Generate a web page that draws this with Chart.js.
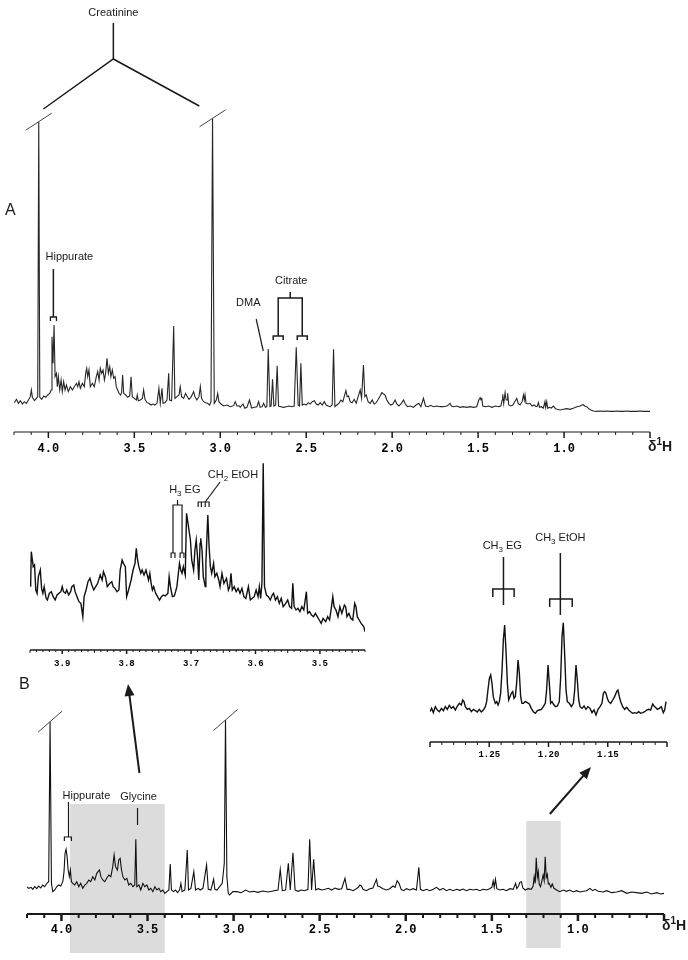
<!DOCTYPE html>
<html>
<head>
<meta charset="utf-8">
<script src="https://cdn.jsdelivr.net/npm/chart.js@4.4.0/dist/chart.umd.min.js"></script>
<style>
  body { margin: 0; background: #fff; }
  #wrap { position: relative; width: 688px; height: 960px; }
  #wrap canvas { position: absolute; left: 0; top: 0; }
</style>
</head>
<body>
<div id="wrap">
  <canvas id="specB" width="688" height="960"></canvas>
  <canvas id="specA" width="688" height="960"></canvas>
  <canvas id="zoomGly" width="688" height="960"></canvas>
  <canvas id="zoomEt" width="688" height="960"></canvas>
</div>
<script>
// [ppm, intensity]
const spectrumA = [
  [4.198,88],[4.186,98],[4.174,86],[4.163,94],[4.151,84],[4.140,91],[4.128,86],[4.116,96],[4.105,106],[4.099,126],
  [4.093,104],[4.081,94],[4.070,101],[4.062,106],[4.056,931],[4.050,104],[4.039,98],[4.027,108],[4.015,104],[4.004,111],
  [3.992,116],[3.984,126],[3.979,286],[3.973,206],[3.967,321],[3.961,166],[3.953,176],[3.948,136],[3.942,166],[3.934,126],
  [3.926,156],[3.919,121],[3.911,151],[3.903,126],[3.895,141],[3.884,121],[3.872,136],[3.860,126],[3.849,136],[3.837,146],
  [3.829,136],[3.822,151],[3.814,131],[3.802,146],[3.791,136],[3.783,176],[3.777,191],[3.771,166],[3.764,186],[3.756,136],
  [3.744,146],[3.733,136],[3.721,166],[3.713,181],[3.705,156],[3.698,191],[3.690,176],[3.682,186],[3.674,156],[3.667,176],
  [3.659,221],[3.651,176],[3.643,196],[3.636,166],[3.628,186],[3.620,161],[3.612,166],[3.605,136],[3.597,126],[3.589,116],
  [3.581,111],[3.574,118],[3.568,171],[3.562,116],[3.550,111],[3.539,104],[3.527,108],[3.519,166],[3.512,106],[3.500,101],
  [3.488,96],[3.483,111],[3.477,94],[3.465,96],[3.453,101],[3.446,126],[3.438,98],[3.426,88],[3.415,86],[3.403,81],
  [3.391,84],[3.380,81],[3.368,86],[3.357,131],[3.349,86],[3.339,131],[3.333,86],[3.322,88],[3.310,96],[3.300,176],
  [3.295,96],[3.283,94],[3.271,318],[3.264,101],[3.252,106],[3.240,111],[3.233,136],[3.225,106],[3.213,101],[3.202,116],
  [3.194,108],[3.182,98],[3.171,104],[3.159,116],[3.155,121],[3.147,106],[3.136,96],[3.124,106],[3.116,136],[3.109,101],
  [3.097,91],[3.085,88],[3.074,86],[3.062,81],[3.054,91],[3.045,941],[3.035,86],[3.023,96],[3.015,116],[3.008,91],
  [2.996,84],[2.981,78],[2.961,81],[2.942,76],[2.922,79],[2.913,91],[2.903,78],[2.888,78],
  [2.884,74],[2.868,84],[2.857,71],[2.845,74],[2.830,96],[2.818,72],[2.802,74],[2.787,76],[2.777,91],[2.768,74],
  [2.756,76],[2.748,86],[2.737,74],[2.729,76],[2.721,249],[2.711,76],[2.704,78],[2.696,158],[2.688,78],[2.678,81],
  [2.669,199],[2.661,78],[2.647,76],[2.632,74],[2.616,76],[2.601,78],[2.585,76],[2.570,78],[2.558,254],[2.547,81],
  [2.539,78],[2.531,206],[2.523,81],[2.512,84],[2.500,81],[2.488,88],[2.477,84],[2.465,91],[2.452,94],[2.442,84],
  [2.430,81],[2.419,88],[2.407,81],[2.395,91],[2.384,81],[2.372,78],[2.361,76],[2.349,81],[2.341,248],[2.333,76],
  [2.322,81],[2.310,86],[2.298,96],[2.287,91],[2.279,106],[2.269,124],[2.262,106],[2.254,108],[2.244,91],[2.233,88],
  [2.221,98],[2.209,86],[2.198,106],[2.186,126],[2.178,101],[2.167,201],[2.159,106],[2.151,111],[2.140,91],[2.128,86],
  [2.116,96],[2.105,84],[2.093,88],[2.081,98],[2.070,108],[2.060,118],[2.050,114],[2.041,111],[2.031,96],[2.019,86],
  [2.008,81],[1.996,84],[1.983,96],[1.973,84],[1.961,78],[1.946,86],[1.934,96],[1.923,84],[1.911,76],[1.895,78],
  [1.876,74],[1.861,81],[1.845,86],[1.833,76],[1.818,101],[1.806,78],[1.791,76],[1.775,80],[1.760,76],[1.740,78],
  [1.721,76],[1.702,76],[1.682,78],[1.671,82],[1.663,86],[1.655,78],[1.643,76],[1.624,78],[1.605,74],[1.585,76],
  [1.566,74],[1.547,76],[1.527,74],[1.508,76],[1.496,96],[1.488,103],[1.483,96],[1.479,103],[1.473,78],[1.457,76],
  [1.438,78],[1.419,74],[1.399,78],[1.380,76],[1.368,78],[1.360,96],[1.357,113],[1.351,86],[1.343,118],[1.337,96],
  [1.331,96],[1.328,116],[1.322,81],[1.310,78],[1.298,81],[1.287,91],[1.275,101],[1.267,86],[1.256,81],[1.244,91],
  [1.236,111],[1.231,96],[1.227,111],[1.221,86],[1.209,84],[1.198,86],[1.186,78],[1.174,81],[1.163,76],[1.155,78],
  [1.149,88],[1.143,74],[1.132,76],[1.120,72],[1.111,91],[1.107,74],[1.101,91],[1.095,71],[1.085,74],[1.074,72],
  [1.062,78],[1.050,70],[1.039,68],[1.023,66],[1.004,68],[0.985,70],[0.965,68],[0.946,71],[0.934,74],[0.923,76],
  [0.907,78],[0.895,81],[0.888,82],[0.880,78],[0.868,76],[0.857,70],[0.845,66],[0.829,63],[0.810,62],[0.791,63],
  [0.771,62],[0.752,63],[0.733,62],[0.713,62],[0.694,63],[0.674,62],[0.655,62],[0.636,63],[0.616,62],[0.597,62],
  [0.577,62],[0.558,63],[0.539,62],[0.519,62],[0.500,62]
];

const spectrumB = [
  [4.202,82],[4.190,77],[4.176,80],[4.167,74],[4.155,82],[4.143,76],[4.132,84],[4.120,78],[4.109,87],[4.097,82],
  [4.085,92],[4.074,97],[4.066,577],[4.058,92],[4.050,67],[4.039,72],[4.027,82],[4.016,87],[4.004,84],[3.992,97],
  [3.985,127],[3.979,182],[3.973,194],[3.967,172],[3.961,132],[3.954,112],[3.948,132],[3.942,97],[3.934,92],[3.923,87],
  [3.911,97],[3.899,82],[3.888,92],[3.876,77],[3.864,87],[3.853,92],[3.841,102],[3.830,97],[3.818,112],[3.806,102],
  [3.795,122],[3.787,127],[3.779,132],[3.771,112],[3.760,102],[3.748,97],[3.737,107],[3.725,117],[3.713,112],[3.702,142],
  [3.694,177],[3.686,142],[3.675,132],[3.667,162],[3.659,167],[3.651,132],[3.643,112],[3.632,102],[3.620,107],[3.609,87],
  [3.597,92],[3.585,82],[3.574,87],[3.568,224],[3.562,82],[3.550,87],[3.539,72],[3.527,92],[3.516,82],[3.504,87],
  [3.492,72],[3.481,77],[3.469,67],[3.457,82],[3.446,72],[3.434,77],[3.423,67],[3.411,72],[3.399,62],[3.388,67],
  [3.376,72],[3.368,150],[3.361,72],[3.349,67],[3.337,72],[3.326,64],[3.314,72],[3.306,92],[3.299,67],[3.283,72],
  [3.269,192],[3.262,72],[3.248,77],[3.231,127],[3.221,72],[3.206,77],[3.194,72],[3.178,77],[3.157,147],[3.147,74],
  [3.132,72],[3.116,104],[3.109,74],[3.097,72],[3.081,82],[3.066,92],[3.054,152],[3.047,582],[3.039,112],[3.031,62],
  [3.023,57],[3.004,67],[2.981,67],[2.957,64],[2.930,72],[2.907,66],[2.884,68],[2.859,65],[2.830,69],[2.800,66],
  [2.771,69],[2.742,72],[2.729,134],[2.717,70],[2.698,72],[2.682,152],[2.671,72],[2.655,184],[2.643,72],[2.626,68],
  [2.607,72],[2.587,70],[2.568,74],[2.558,224],[2.547,72],[2.535,164],[2.523,72],[2.508,76],[2.488,72],[2.469,74],
  [2.450,77],[2.430,72],[2.411,78],[2.392,74],[2.372,76],[2.353,107],[2.341,74],
  [2.326,74],[2.306,70],[2.287,76],[2.275,80],[2.267,87],[2.258,84],[2.248,74],[2.229,70],[2.209,76],[2.190,78],
  [2.180,92],[2.170,104],[2.163,84],[2.151,82],[2.132,76],[2.112,72],[2.093,76],[2.074,84],[2.062,80],[2.050,100],
  [2.039,92],[2.027,74],[2.012,70],[1.996,76],[1.977,72],[1.957,76],[1.938,72],[1.924,140],[1.915,74],[1.899,70],
  [1.880,74],[1.860,70],[1.841,74],[1.822,80],[1.802,72],[1.783,77],[1.764,70],[1.744,74],[1.725,70],[1.705,74],
  [1.686,71],[1.667,75],[1.647,70],[1.628,74],[1.608,72],[1.589,74],[1.570,70],[1.550,74],[1.531,72],[1.512,76],
  [1.500,80],[1.492,99],[1.486,80],[1.479,104],[1.471,76],[1.453,72],[1.434,74],[1.415,70],[1.395,76],[1.376,74],
  [1.362,92],[1.355,76],[1.345,84],[1.337,95],[1.328,97],[1.320,78],[1.306,72],[1.289,76],[1.271,74],[1.260,84],
  [1.254,112],[1.248,92],[1.242,169],[1.236,110],[1.230,127],[1.225,90],[1.217,82],[1.209,100],[1.202,117],[1.196,100],
  [1.190,172],[1.184,110],[1.178,119],[1.172,90],[1.167,92],[1.157,80],[1.149,90],[1.139,77],[1.124,72],[1.105,67],
  [1.085,72],[1.066,68],[1.047,72],[1.027,66],[1.008,70],[0.988,66],[0.969,68],[0.950,70],[0.930,77],[0.915,70],
  [0.901,74],[0.882,68],[0.853,66],[0.833,70],[0.804,64],[0.775,66],[0.746,70],[0.717,62],[0.688,66],[0.659,64],
  [0.630,62],[0.601,66],[0.572,60],[0.543,64],[0.519,60],[0.500,62]
];

// expansion 3.95-3.43 ppm
const zoomGlycine = [
  [3.949,190],[3.948,295],[3.945,250],[3.943,255],[3.941,180],[3.939,170],[3.937,220],[3.934,240],[3.932,185],[3.930,170],
  [3.928,190],[3.925,155],[3.923,150],[3.920,170],[3.917,175],[3.914,160],[3.911,150],[3.908,165],[3.905,170],[3.902,175],
  [3.900,190],[3.898,175],[3.895,170],[3.893,180],[3.890,165],[3.887,175],[3.885,190],[3.882,195],[3.880,175],[3.877,160],
  [3.874,145],[3.871,140],[3.868,100],[3.866,160],[3.863,180],[3.860,205],[3.857,215],[3.854,195],[3.851,180],[3.848,190],
  [3.845,200],[3.841,225],[3.838,210],[3.836,235],[3.833,220],[3.830,190],[3.826,200],[3.823,205],[3.821,190],[3.818,185],
  [3.815,175],[3.812,180],[3.810,240],[3.807,270],[3.805,260],[3.802,250],[3.800,160],[3.797,180],[3.793,210],[3.790,240],
  [3.787,260],[3.785,305],[3.783,270],[3.781,250],[3.778,230],[3.776,240],[3.773,225],[3.770,240],[3.766,210],[3.764,230],
  [3.762,200],[3.760,180],[3.758,190],[3.755,170],[3.752,160],[3.749,150],[3.746,160],[3.743,165],[3.740,162],[3.736,170],
  [3.734,220],[3.732,190],[3.729,160],[3.726,162],[3.724,175],[3.722,190],[3.720,225],[3.718,260],[3.716,240],[3.714,230],
  [3.712,250],[3.709,225],[3.707,410],[3.704,370],[3.701,330],[3.699,270],[3.696,240],[3.694,300],[3.692,330],[3.690,280],
  [3.688,210],[3.686,320],[3.685,335],[3.683,300],[3.681,220],[3.678,190],[3.677,260],[3.674,405],[3.672,310],[3.670,250],
  [3.668,230],[3.665,260],[3.663,220],[3.660,230],[3.657,210],[3.655,190],[3.652,230],[3.649,200],[3.645,215],[3.642,180],
  [3.640,190],[3.638,230],[3.636,180],[3.633,190],[3.630,175],[3.627,185],[3.624,170],[3.621,185],[3.618,160],[3.615,155],
  [3.611,190],[3.608,150],[3.605,155],[3.602,160],[3.599,180],[3.596,160],[3.594,190],[3.592,155],[3.590,200],[3.588,560],
  [3.586,190],[3.583,165],[3.580,160],[3.577,150],[3.574,165],[3.572,170],[3.569,150],[3.566,160],[3.563,140],[3.560,155],
  [3.557,130],[3.553,140],[3.550,150],[3.547,130],[3.544,125],[3.542,200],[3.540,130],[3.537,120],[3.534,125],[3.531,115],
  [3.528,130],[3.525,120],[3.521,175],[3.519,110],[3.516,115],[3.513,105],[3.510,100],[3.507,110],[3.504,100],[3.501,90],
  [3.498,80],[3.495,95],[3.491,85],[3.488,100],[3.485,90],[3.482,130],[3.480,160],[3.478,130],[3.475,120],[3.472,100],
  [3.469,130],[3.466,110],[3.462,135],[3.460,130],[3.458,100],[3.455,110],[3.452,95],[3.449,90],[3.446,140],[3.444,130],
  [3.442,100],[3.439,90],[3.436,80],[3.432,70],[3.430,55]
];

// expansion 1.30-1.10 ppm
const zoomEthanol = [
  [1.3000,91],[1.2986,101],[1.2972,88],[1.2955,106],[1.2938,96],[1.2921,91],[1.2904,101],[1.2887,94],[1.2871,106],[1.2854,98],
  [1.2837,110],[1.2820,101],[1.2803,106],[1.2786,96],[1.2769,108],[1.2752,116],[1.2736,111],[1.2724,126],[1.2713,121],[1.2702,106],
  [1.2685,98],[1.2668,101],[1.2651,91],[1.2634,98],[1.2617,94],[1.2601,90],[1.2584,98],[1.2567,90],[1.2550,96],[1.2533,106],
  [1.2522,121],[1.2511,156],[1.2499,191],[1.2488,201],[1.2477,176],[1.2466,136],[1.2449,116],[1.2437,121],[1.2426,111],[1.2415,121],
  [1.2404,146],[1.2392,216],[1.2381,306],[1.2370,351],[1.2359,276],[1.2347,176],[1.2336,126],[1.2325,136],[1.2314,146],[1.2302,151],
  [1.2291,131],[1.2280,136],[1.2269,176],[1.2257,246],[1.2246,206],[1.2235,136],[1.2224,116],[1.2212,116],[1.2196,121],[1.2179,118],
  [1.2162,114],[1.2145,101],[1.2128,91],[1.2111,86],[1.2094,94],[1.2077,96],[1.2060,98],[1.2044,106],[1.2027,116],[1.2016,156],
  [1.2004,231],[1.1993,176],[1.1982,116],[1.1970,121],[1.1959,114],[1.1942,106],[1.1925,108],[1.1909,121],[1.1897,196],[1.1886,316],
  [1.1875,358],[1.1864,266],[1.1852,156],[1.1841,121],[1.1824,116],[1.1807,106],[1.1790,116],[1.1779,156],[1.1768,231],[1.1757,186],
  [1.1745,126],[1.1734,106],[1.1717,101],[1.1700,108],[1.1684,98],[1.1667,106],[1.1650,101],[1.1633,88],[1.1616,96],[1.1599,81],
  [1.1582,98],[1.1565,106],[1.1549,116],[1.1537,146],[1.1526,151],[1.1515,146],[1.1504,131],[1.1492,121],[1.1475,116],[1.1458,126],
  [1.1442,136],[1.1425,151],[1.1414,156],[1.1402,136],[1.1391,121],[1.1374,106],[1.1357,98],[1.1340,104],[1.1323,96],[1.1307,91],
  [1.1290,86],[1.1273,88],[1.1256,86],[1.1239,91],[1.1222,86],[1.1205,88],[1.1188,91],[1.1172,96],[1.1155,98],[1.1138,96],
  [1.1121,114],[1.1110,108],[1.1098,104],[1.1081,98],[1.1065,101],[1.1048,106],[1.1031,88],[1.1020,96],[1.1008,121]
];

const tickLabelsMain = [4.0, 3.5, 3.0, 2.5, 2.0, 1.5, 1.0];
const tickLabelsGly = [3.9, 3.8, 3.7, 3.6, 3.5];
const tickLabelsEt = [1.25, 1.20, 1.15];
const expandedRegions = [[3.95, 3.40], [1.30, 1.10]];

const SANS = '"Liberation Sans", Arial, sans-serif';
const MONO = '"Liberation Mono", "DejaVu Sans Mono", monospace';
const INK = '#1a1a1a';

function near(v, step) {
  const q = v / step;
  return Math.abs(q - Math.round(q)) < 1e-6;
}

function line(ctx, pts, lw) {
  ctx.lineWidth = lw || 1.2;
  ctx.beginPath();
  pts.forEach(([x, y], i) => i ? ctx.lineTo(x, y) : ctx.moveTo(x, y));
  ctx.stroke();
}

// parts: [text, 0 normal | 1 subscript | 2 superscript]
function rich(ctx, parts, x, y, size, align, weight) {
  const small = Math.round(size * 0.72);
  const fontOf = k => (weight || '') + ' ' + (k ? small : size) + 'px ' + SANS;
  let w = 0;
  parts.forEach(([t, k]) => { ctx.font = fontOf(k); w += ctx.measureText(t).width; });
  let cx = align === 'center' ? x - w / 2 : x;
  ctx.textAlign = 'left';
  ctx.textBaseline = 'middle';
  parts.forEach(([t, k]) => {
    ctx.font = fontOf(k);
    const dy = k === 1 ? size * 0.3 : k === 2 ? -size * 0.35 : 0;
    ctx.fillText(t, cx, y + dy);
    cx += ctx.measureText(t).width;
  });
}

function arrow(ctx, x1, y1, x2, y2) {
  const a = Math.atan2(y2 - y1, x2 - x1), L = 12, W = 5;
  line(ctx, [[x1, y1], [x2 - L * 0.7 * Math.cos(a), y2 - L * 0.7 * Math.sin(a)]], 2);
  ctx.beginPath();
  ctx.moveTo(x2, y2);
  ctx.lineTo(x2 - L * Math.cos(a) + W * Math.sin(a), y2 - L * Math.sin(a) - W * Math.cos(a));
  ctx.lineTo(x2 - L * Math.cos(a) - W * Math.sin(a), y2 - L * Math.sin(a) + W * Math.cos(a));
  ctx.closePath();
  ctx.fill();
}

function breakMarks(ctx, chart, data, limit, dx, dy) {
  const X = chart.scales.x, Y = chart.scales.y;
  ctx.strokeStyle = '#444';
  data.filter(p => p[1] > limit).forEach(([p, v]) => {
    const px = X.getPixelForValue(p), py = Y.getPixelForValue(v);
    line(ctx, [[px - dx, py + dy], [px + dx, py - dy]], 1);
  });
  ctx.strokeStyle = INK;
}

function spectrumChart(id, data, o) {
  const axisPlugin = {
    id: 'ppmAxis',
    beforeDraw(chart) {
      if (o.under) o.under(chart.ctx, chart);
    },
    afterDraw(chart) {
      const s = chart.scales.x, ctx = chart.ctx, y0 = chart.chartArea.bottom;
      ctx.save();
      ctx.strokeStyle = INK;
      ctx.fillStyle = INK;
      line(ctx, [[s.left, y0], [s.right, y0]], o.axisW);
      s.ticks.forEach(t => {
        const px = s.getPixelForValue(t.value);
        let len = o.minL, lw = o.minW;
        if (near(t.value, o.major)) { len = o.majL; lw = o.majW; }
        else if (o.mid && near(t.value, o.mid)) { len = (o.minL + o.majL) / 2; }
        line(ctx, [[px, y0], [px, y0 + len]], lw);
      });
      if (o.over) o.over(ctx, chart);
      ctx.restore();
    }
  };
  return new Chart(document.getElementById(id), {
    type: 'line',
    data: {
      datasets: [{
        data: data.map(([x, y]) => ({ x, y })),
        borderColor: o.color,
        borderWidth: o.lw,
        pointRadius: 0,
        tension: 0,
        fill: false
      }]
    },
    options: {
      responsive: false,
      animation: false,
      events: [],
      layout: { padding: o.pad, autoPadding: false },
      plugins: { legend: { display: false }, tooltip: { enabled: false } },
      scales: {
        x: {
          type: 'linear',
          reverse: true,
          min: o.min,
          max: o.max,
          afterFit: s => { s.height = o.axisH; },
          grid: { display: false, drawTicks: false },
          border: { display: false },
          ticks: {
            stepSize: o.step,
            autoSkip: false,
            maxRotation: 0,
            padding: o.tickPad,
            color: '#000',
            font: { family: MONO, size: o.tickSize, weight: 'bold' },
            callback: v => {
              const hit = o.labels.find(l => Math.abs(l - v) < 1e-6);
              return hit === undefined ? '' : hit.toFixed(o.dec);
            }
          }
        },
        y: { display: false, min: 0, max: o.ymax }
      }
    },
    plugins: [axisPlugin]
  });
}

// A: full spectrum
spectrumChart('specA', spectrumA, {
  min: 0.5, max: 4.2, step: 0.1, major: 0.5, labels: tickLabelsMain, dec: 1,
  pad: { left: 14, right: 38, top: 110, bottom: 498 }, axisH: 30, ymax: 966,
  color: '#262626', lw: 1.1, tickPad: 10, tickSize: 12,
  axisW: 1.2, minL: 3, majL: 6, minW: 1, majW: 1.5,
  over(ctx, chart) {
    const X = v => chart.scales.x.getPixelForValue(v);
    breakMarks(ctx, chart, spectrumA, 500, 13, 8.5);
    rich(ctx, [['Creatinine', 0]], X(3.622), 13, 11, 'center');
    line(ctx, [[X(3.622), 23], [X(3.622), 59]], 1.5);
    line(ctx, [[X(4.029), 109], [X(3.622), 59], [X(3.122), 106]], 1.5);
    rich(ctx, [['A', 0]], 5, 211, 16, 'left');
    rich(ctx, [['Hippurate', 0]], X(3.878), 257, 11, 'center');
    line(ctx, [[X(3.971), 269], [X(3.971), 317]], 1.5);
    line(ctx, [[X(3.988), 321], [X(3.988), 317], [X(3.953), 317], [X(3.953), 321]], 1.3);
    rich(ctx, [['DMA', 0]], X(2.837), 303, 11, 'center');
    line(ctx, [[X(2.791), 319], [X(2.750), 351]], 1.2);
    rich(ctx, [['Citrate', 0]], X(2.587), 281, 11, 'center');
    line(ctx, [[X(2.593), 292], [X(2.593), 298]], 1.5);
    line(ctx, [[X(2.663), 336], [X(2.663), 298], [X(2.523), 298], [X(2.523), 336]], 1.5);
    line(ctx, [[X(2.692), 340], [X(2.692), 336], [X(2.634), 336], [X(2.634), 340]], 1.5);
    line(ctx, [[X(2.552), 340], [X(2.552), 336], [X(2.494), 336], [X(2.494), 340]], 1.5);
    rich(ctx, [['δ', 0], ['1', 2], ['H', 0]], 648, 447, 14, 'left', 'bold');
  }
});

// expansion of the glycine region
spectrumChart('zoomGly', zoomGlycine, {
  min: 3.43, max: 3.95, step: 0.01, major: 0.1, mid: 0.05, labels: tickLabelsGly, dec: 1,
  pad: { left: 30, right: 323, top: 450, bottom: 290 }, axisH: 20, ymax: 600,
  color: '#111', lw: 1.4, tickPad: 8, tickSize: 9,
  axisW: 1.5, minL: 2, majL: 4, minW: 1, majW: 1.5,
  over(ctx, chart) {
    const X = v => chart.scales.x.getPixelForValue(v);
    rich(ctx, [['H', 0], ['3', 1], [' EG', 0]], X(3.734), 490, 11, 'left');
    line(ctx, [[X(3.721), 500], [X(3.721), 505]], 1.2);
    line(ctx, [[X(3.728), 553], [X(3.728), 505], [X(3.714), 505], [X(3.714), 553]], 1.2);
    line(ctx, [[X(3.731), 558], [X(3.731), 553], [X(3.725), 553], [X(3.725), 558]], 1.2);
    line(ctx, [[X(3.717), 558], [X(3.717), 553], [X(3.711), 553], [X(3.711), 558]], 1.2);
    rich(ctx, [['CH', 0], ['2', 1], [' EtOH', 0]], X(3.674), 475, 11, 'left');
    line(ctx, [[X(3.655), 482], [X(3.678), 502]], 1.2);
    line(ctx, [[X(3.689), 507], [X(3.689), 502], [X(3.672), 502], [X(3.672), 507]], 1.2);
    line(ctx, [[X(3.684), 502], [X(3.684), 507]], 1.2);
    line(ctx, [[X(3.678), 502], [X(3.678), 507]], 1.2);
  }
});

// expansion of the methyl region
spectrumChart('zoomEt', zoomEthanol, {
  min: 1.10, max: 1.30, step: 0.01, major: 0.05, labels: tickLabelsEt, dec: 2,
  pad: { left: 430, right: 21, top: 555, bottom: 198 }, axisH: 20, ymax: 561,
  color: '#111', lw: 1.4, tickPad: 7, tickSize: 9,
  axisW: 1.5, minL: 3, majL: 5, minW: 1, majW: 1.5,
  over(ctx, chart) {
    const X = v => chart.scales.x.getPixelForValue(v);
    rich(ctx, [['CH', 0], ['3', 1], [' EG', 0]], X(1.239), 546, 11, 'center');
    line(ctx, [[X(1.238), 557], [X(1.238), 605]], 1.5);
    line(ctx, [[X(1.247), 597], [X(1.247), 589], [X(1.229), 589], [X(1.229), 597]], 1.5);
    rich(ctx, [['CH', 0], ['3', 1], [' EtOH', 0]], X(1.190), 538, 11, 'center');
    line(ctx, [[X(1.190), 553], [X(1.190), 615]], 1.5);
    line(ctx, [[X(1.199), 607], [X(1.199), 599], [X(1.180), 599], [X(1.180), 607]], 1.5);
  }
});

// B: full spectrum
spectrumChart('specB', spectrumB, {
  min: 0.5, max: 4.2, step: 0.1, major: 0.5, labels: tickLabelsMain, dec: 1,
  pad: { left: 27, right: 24, top: 705, bottom: 16 }, axisH: 30, ymax: 627,
  color: '#111', lw: 1.1, tickPad: 9, tickSize: 12,
  axisW: 2, minL: 4, majL: 7, minW: 2, majW: 2.5,
  under(ctx, chart) {
    const X = v => chart.scales.x.getPixelForValue(v);
    ctx.save();
    ctx.fillStyle = '#dcdcdc';
    const [r1, r2] = expandedRegions;
    ctx.fillRect(X(r1[0]), 804, X(r1[1]) - X(r1[0]), 149);
    ctx.fillRect(X(r2[0]), 821, X(r2[1]) - X(r2[0]), 127);
    ctx.restore();
  },
  over(ctx, chart) {
    const X = v => chart.scales.x.getPixelForValue(v);
    breakMarks(ctx, chart, spectrumB, 400, 12, 10.5);
    rich(ctx, [['B', 0]], 19, 685, 16, 'left');
    rich(ctx, [['Hippurate', 0]], X(3.855), 796, 11, 'center');
    line(ctx, [[X(3.959), 802], [X(3.959), 837]], 1.2);
    line(ctx, [[X(3.983), 841], [X(3.983), 837], [X(3.942), 837], [X(3.942), 841]], 1.2);
    rich(ctx, [['Glycine', 0]], X(3.552), 797, 11, 'center');
    line(ctx, [[X(3.558), 808], [X(3.558), 825]], 1.2);
    arrow(ctx, X(3.547), 773, 128, 684);
    arrow(ctx, X(1.163), 814, 591, 767);
    rich(ctx, [['δ', 0], ['1', 2], ['H', 0]], 662, 926, 14, 'left', 'bold');
  }
});
</script>
</body>
</html>
